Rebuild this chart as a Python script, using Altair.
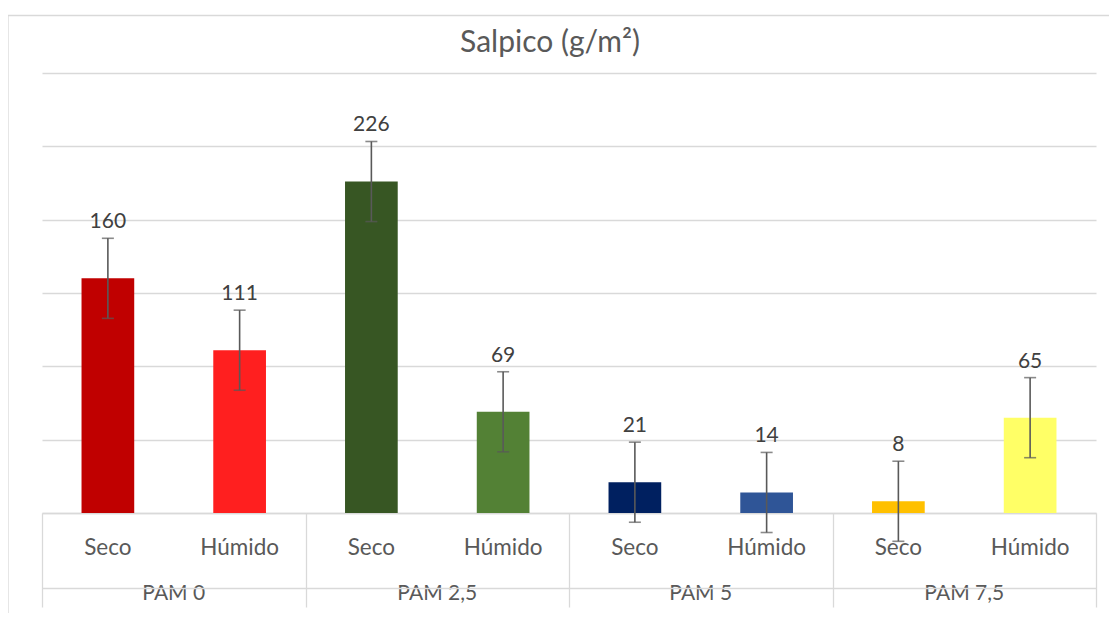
import altair as alt
import pandas as pd

groups = ["PAM 0", "PAM 0", "PAM 2,5", "PAM 2,5", "PAM 5", "PAM 5", "PAM 7,5", "PAM 7,5"]
conditions = ["Seco", "Húmido", "Seco", "Húmido", "Seco", "Húmido", "Seco", "Húmido"]
values = [160, 111, 226, 69, 21, 14, 8, 65]
errors = [27.3, 27.3, 27.3, 27.3, 27.3, 27.3, 27.3, 27.3]
group_names = ["PAM 0", "PAM 2,5", "PAM 5", "PAM 7,5"]
bar_colors = ["#C00000", "#FF1F1F", "#375623", "#538135",
              "#002060", "#2F5597", "#FFC000", "#FFFF66"]
grid_values = [0, 50, 100, 150, 200, 250, 300]

keys = [f"{g}|{c}" for g, c in zip(groups, conditions)]
df = pd.DataFrame({"key": keys, "group": groups, "cond": conditions,
                   "value": values, "err": errors})
df["lo"] = df["value"] - df["err"]
df["hi"] = df["value"] + df["err"]
gdf = pd.DataFrame({"group": group_names})

W, H = 1054, 440
FONT = "Lato"
GRID = "#D9D9D9"
TXT = "#595959"

x_bar = alt.X(
    "key:N", sort=keys, title=None,
    scale=alt.Scale(paddingInner=0.6, paddingOuter=0.3),
    axis=alt.Axis(orient="bottom", title=None,
                  labelExpr="split(datum.value, '|')[1]", labelAngle=0,
                  ticks=False, domain=True, domainColor=GRID, domainWidth=1.3,
                  labelFont=FONT, labelFontSize=22.5, labelColor=TXT,
                  labelBaseline="alphabetic", labelPadding=41, grid=False),
)
x_plain = alt.X("key:N", sort=keys, title=None)
y_val = alt.Y(
    "value:Q", title=None,
    scale=alt.Scale(domain=[0, 300], nice=False, zero=True),
    axis=alt.Axis(title=None, labels=False, ticks=False, domain=False,
                  values=grid_values, gridColor=GRID, gridWidth=1.3),
)

base = alt.Chart(df)
bars = base.mark_bar().encode(
    x=x_bar, y=y_val,
    color=alt.Color("key:N", scale=alt.Scale(domain=keys, range=bar_colors), legend=None),
)
err_rule = base.mark_rule(color="#595959", strokeWidth=1.6).encode(
    x=x_plain, y=alt.Y("lo:Q", title=None), y2="hi:Q")
cap_hi = base.mark_tick(color="#595959", size=12, thickness=1.6, orient="horizontal").encode(
    x=x_plain, y=alt.Y("hi:Q", title=None))
cap_lo = base.mark_tick(color="#595959", size=12, thickness=1.6, orient="horizontal").encode(
    x=x_plain, y=alt.Y("lo:Q", title=None))
labels = base.mark_text(font=FONT, fontSize=21, color="#404040",
                        baseline="alphabetic", dy=-10).encode(
    x=x_plain, y=alt.Y("hi:Q", title=None), text=alt.Text("value:Q", format="d"))

main = alt.layer(bars, err_rule, cap_hi, cap_lo, labels)

sep = alt.Chart(gdf).mark_point(opacity=0).encode(
    x=alt.X("group:N", sort=group_names, title=None,
            scale=alt.Scale(type="band", paddingInner=0, paddingOuter=0),
            axis=alt.Axis(orient="bottom", title=None, labels=False, domain=False,
                          ticks=True, tickBand="extent", tickSize=94,
                          tickColor=GRID, tickWidth=1.3, grid=False)),
    y=alt.value(0),
)
grp = alt.Chart(gdf).mark_point(opacity=0).encode(
    x=alt.X("group:N", sort=group_names, title=None,
            scale=alt.Scale(type="band", paddingInner=0, paddingOuter=0),
            axis=alt.Axis(orient="bottom", title=None, offset=75, domain=True,
                          domainColor=GRID, domainWidth=1.3, ticks=False, grid=False,
                          labelFont=FONT, labelFontSize=21, labelColor=TXT,
                          labelAngle=0, labelBaseline="alphabetic", labelPadding=11)),
    y=alt.value(0),
)

frame = alt.Chart(alt.Data(values=[{"a": 1}])).mark_rect(
    fill="transparent", stroke=GRID, strokeWidth=1.3
).encode(x=alt.value(-34), x2=alt.value(1110), y=alt.value(-57.5), y2=alt.value(620))

chart = alt.layer(frame, main, sep, grp).resolve_scale(x="independent").properties(
    width=W, height=H,
    title=alt.TitleParams(text="Salpico (g/m²)", font=FONT, fontSize=30,
                          fontWeight="normal", color=TXT, anchor="middle",
                          frame="group", baseline="alphabetic", offset=-67, dx=-19),
    padding={"left": 34, "top": 65, "right": 13, "bottom": 100},
    autosize=alt.AutoSizeParams(type="none"),
).configure(background="white", view=alt.ViewConfig(stroke=None))

chart.save("out.html", embed_options={"renderer": "svg", "actions": False})
